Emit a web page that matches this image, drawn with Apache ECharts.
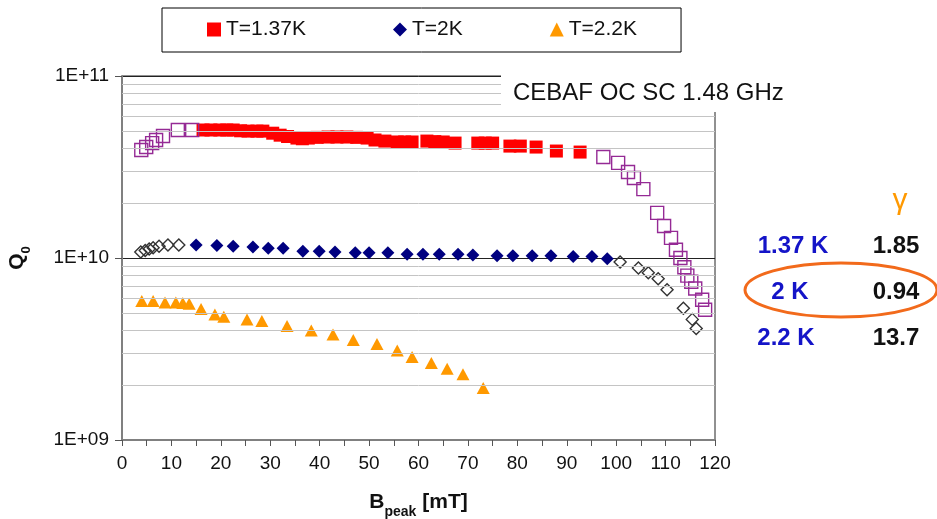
<!DOCTYPE html>
<html>
<head>
<meta charset="utf-8">
<script src="https://cdn.jsdelivr.net/npm/echarts@6/dist/echarts.min.js"></script>
<style>
html,body{margin:0;padding:0;background:#fff}
#chart{width:937px;height:519px}
</style>
</head>
<body>
<div id="chart"></div>
<script>
// Q0 values are stored in units of 1E+10
var b137 = [16.4, 18, 19.8, 21.2, 22.5, 24, 25.5, 27.3, 28.5, 30.5, 32, 33.5, 35.4, 36.5, 37.7, 39.5, 41.7, 43.5, 45.5, 47.5, 49.6, 51.2, 53.2, 55.7, 57.2, 58.7, 61.7, 63.3, 65, 67.4, 72, 73.5, 75, 78.5, 80.6, 83.8, 87.9, 92.7];
var q137 = [5.05, 5.05, 5.05, 5.05, 5.05, 5.0, 4.98, 4.98, 4.98, 4.85, 4.73, 4.65, 4.56, 4.52, 4.56, 4.6, 4.62, 4.62, 4.62, 4.6, 4.56, 4.45, 4.39, 4.34, 4.34, 4.34, 4.39, 4.36, 4.34, 4.28, 4.28, 4.28, 4.28, 4.12, 4.12, 4.07, 3.87, 3.82];
var b137open = [3.9, 4.9, 6.1, 6.9, 8.3, 11.3, 14.2, 97.4, 100.4, 102.4, 103.6, 105.5, 108.3, 109.7, 111.1, 112.1, 113, 113.8, 114.4, 115.2, 116, 117.4, 118];
var q137open = [3.92, 4.07, 4.28, 4.45, 4.68, 5.05, 5.05, 3.59, 3.33, 2.97, 2.75, 2.39, 1.77, 1.5, 1.29, 1.11, 1.0, 0.89, 0.80, 0.74, 0.68, 0.59, 0.52];

var b2 = [15, 19.2, 22.5, 26.5, 29.6, 32.6, 36.6, 39.9, 43.1, 47.2, 50, 53.8, 57.7, 60.9, 64.2, 68, 71, 75.9, 79.1, 83, 86.8, 91.3, 95.1, 98.2];
var q2 = [1.18, 1.17, 1.16, 1.15, 1.13, 1.13, 1.09, 1.09, 1.08, 1.07, 1.07, 1.07, 1.05, 1.05, 1.05, 1.05, 1.04, 1.03, 1.03, 1.03, 1.03, 1.02, 1.02, 0.99];
var b2open = [3.8, 4.7, 5.5, 6.3, 7.5, 9.3, 11.5, 100.8, 104.5, 106.5, 108.5, 110.3, 113.6, 115.4, 116.2];
var q2open = [1.08, 1.10, 1.12, 1.14, 1.16, 1.18, 1.18, 0.95, 0.88, 0.83, 0.77, 0.67, 0.53, 0.46, 0.41];

var b22 = [4, 6.3, 8.7, 10.9, 12.3, 13.6, 16, 18.8, 20.6, 25.3, 28.3, 33.4, 38.3, 42.7, 46.8, 51.6, 55.7, 58.7, 62.6, 65.8, 69, 73.1];
var q22 = [0.58, 0.58, 0.57, 0.57, 0.566, 0.56, 0.525, 0.49, 0.475, 0.46, 0.45, 0.423, 0.40, 0.38, 0.354, 0.337, 0.31, 0.286, 0.265, 0.246, 0.23, 0.193];

var seriesNames = ['T=1.37K', 'T=2K', 'T=2.2K'];
var minorGrid = [2e9, 3e9, 4e9, 5e9, 6e9, 7e9, 8e9, 9e9, 2e10, 3e10, 4e10, 5e10, 6e10, 7e10, 8e10, 9e10];

var gammaRows = [['1.37 K', '1.85'], ['2 K', '0.94'], ['2.2 K', '13.7']];

var FONT = '"Liberation Sans", Arial, sans-serif';

function pairs(bs, qs) {
	var out = [];
	for (var i = 0; i < bs.length; i++) {
		out.push([bs[i], qs[i] * 1e10]);
	}
	return out;
}

var chart = echarts.init(document.getElementById('chart'));

// right hand gamma table
var rowY = [246, 292, 338];
var rowX = [793, 790, 786];
var tableGraphics = [];
for (var i = 0; i < gammaRows.length; i++) {
	tableGraphics.push({
		type: 'text', z: 20, x: rowX[i], y: rowY[i],
		style: { text: gammaRows[i][0], fill: '#1414c8', font: 'bold 24px ' + FONT, align: 'center', verticalAlign: 'middle' }
	});
	tableGraphics.push({
		type: 'text', z: 20, x: 896, y: rowY[i],
		style: { text: gammaRows[i][1], fill: '#111', font: 'bold 24px ' + FONT, align: 'center', verticalAlign: 'middle' }
	});
}

var option = {
	backgroundColor: '#fff',
	animation: false,
	textStyle: { fontFamily: FONT },
	grid: {
		left: 122, right: 222, top: 76, bottom: 79,
		outerBoundsMode: 'none', containLabel: false,
		show: true, borderColor: '#222', borderWidth: 1
	},
	legend: {
		data: [
			{ name: seriesNames[0], icon: 'rect' },
			{ name: seriesNames[1], icon: 'diamond' },
			{ name: seriesNames[2], icon: 'triangle' }
		],
		left: 162, top: 8,
		itemWidth: 14, itemHeight: 14, itemGap: 87,
		padding: [11, 44, 12, 45],
		borderColor: '#000', borderWidth: 1,
		textStyle: { fontSize: 21, color: '#111', fontFamily: FONT }
	},
	xAxis: {
		type: 'value', min: 0, max: 120, interval: 10,
		name: '{b|B}{s|peak}{b| [mT]}',
		nameLocation: 'middle', nameGap: 52,
		nameTextStyle: {
			rich: {
				b: { fontSize: 21, fontWeight: 'bold', color: '#111', padding: [0, 0, 6, 0], verticalAlign: 'bottom', fontFamily: FONT },
				s: { fontSize: 14, fontWeight: 'bold', color: '#111', verticalAlign: 'bottom', fontFamily: FONT }
			}
		},
		axisLine: { lineStyle: { color: '#808080', width: 2 } },
		axisTick: { show: true, length: 6, lineStyle: { color: '#555' } },
		minorTick: { show: true, splitNumber: 2, length: 6, lineStyle: { color: '#555' } },
		axisLabel: { fontSize: 19, color: '#111', margin: 14 },
		splitLine: { show: false }
	},
	yAxis: {
		type: 'log', logBase: 10, min: 1e9, max: 1e11,
		name: '{q|Q}{s|0}',
		nameLocation: 'middle', nameRotate: 90, nameGap: 89,
		nameTextStyle: {
			rich: {
				q: { fontSize: 21, fontWeight: 'bold', color: '#111', padding: [0, 0, 5, 0], verticalAlign: 'bottom', fontFamily: FONT },
				s: { fontSize: 13, fontWeight: 'bold', color: '#111', verticalAlign: 'bottom', fontFamily: FONT }
			}
		},
		axisLine: { show: true, lineStyle: { color: '#808080', width: 2 } },
		axisTick: { show: true, length: 7, lineStyle: { color: '#555' } },
		axisLabel: {
			fontSize: 19, color: '#111', margin: 13,
			formatter: function (v) {
				var e = Math.round(Math.log10(v));
				return '1E+' + (e < 10 ? '0' : '') + e;
			}
		},
		splitLine: { show: true, lineStyle: { color: '#222', width: 1 } }
	},
	series: [
		{
			name: 'minor', type: 'scatter', data: [], z: 1, silent: true,
			markLine: {
				silent: true, symbol: 'none', label: { show: false },
				lineStyle: { color: '#c4c4c4', width: 1, type: 'solid' },
				data: minorGrid.map(function (v) { return { yAxis: v }; })
			}
		},
		{
			name: seriesNames[0], type: 'scatter', z: 3, symbol: 'rect', symbolSize: 13,
			itemStyle: { color: '#ff0000', opacity: 1 },
			data: pairs(b137, q137)
		},
		{
			name: 'open137', type: 'scatter', z: 3, symbol: 'rect', symbolSize: 13,
			itemStyle: { color: 'rgba(0,0,0,0)', borderColor: '#952a95', borderWidth: 1.4, opacity: 1 },
			data: pairs(b137open, q137open)
		},
		{
			name: seriesNames[1], type: 'scatter', z: 3, symbol: 'diamond', symbolSize: 13,
			itemStyle: { color: '#000080', opacity: 1 },
			data: pairs(b2, q2)
		},
		{
			name: 'open2', type: 'scatter', z: 3, symbol: 'diamond', symbolSize: 12,
			itemStyle: { color: 'rgba(0,0,0,0)', borderColor: '#333', borderWidth: 1.4, opacity: 1 },
			data: pairs(b2open, q2open)
		},
		{
			name: seriesNames[2], type: 'scatter', z: 3, symbol: 'triangle', symbolSize: [13, 12],
			itemStyle: { color: '#ff9900', opacity: 1 },
			data: pairs(b22, q22)
		}
	],
	graphic: [
		{
			type: 'rect', z: 10, silent: true,
			shape: { x: 501, y: 66, width: 226, height: 46 },
			style: { fill: '#fff' }
		},
		{
			type: 'text', z: 11, x: 513, y: 93,
			style: { text: 'CEBAF OC SC 1.48 GHz', fill: '#111', font: '24px ' + FONT, verticalAlign: 'middle' }
		},
		{
			type: 'text', z: 20, x: 900, y: 201,
			style: { text: 'γ', fill: '#ff9900', font: '30px ' + FONT, align: 'center', verticalAlign: 'middle' }
		},
		{
			type: 'ellipse', z: 20, silent: true,
			shape: { cx: 841, cy: 290, rx: 96, ry: 27 },
			style: { fill: 'none', stroke: '#f26a1b', lineWidth: 3 }
		}
	].concat(tableGraphics)
};

chart.setOption(option);
</script>
</body>
</html>
